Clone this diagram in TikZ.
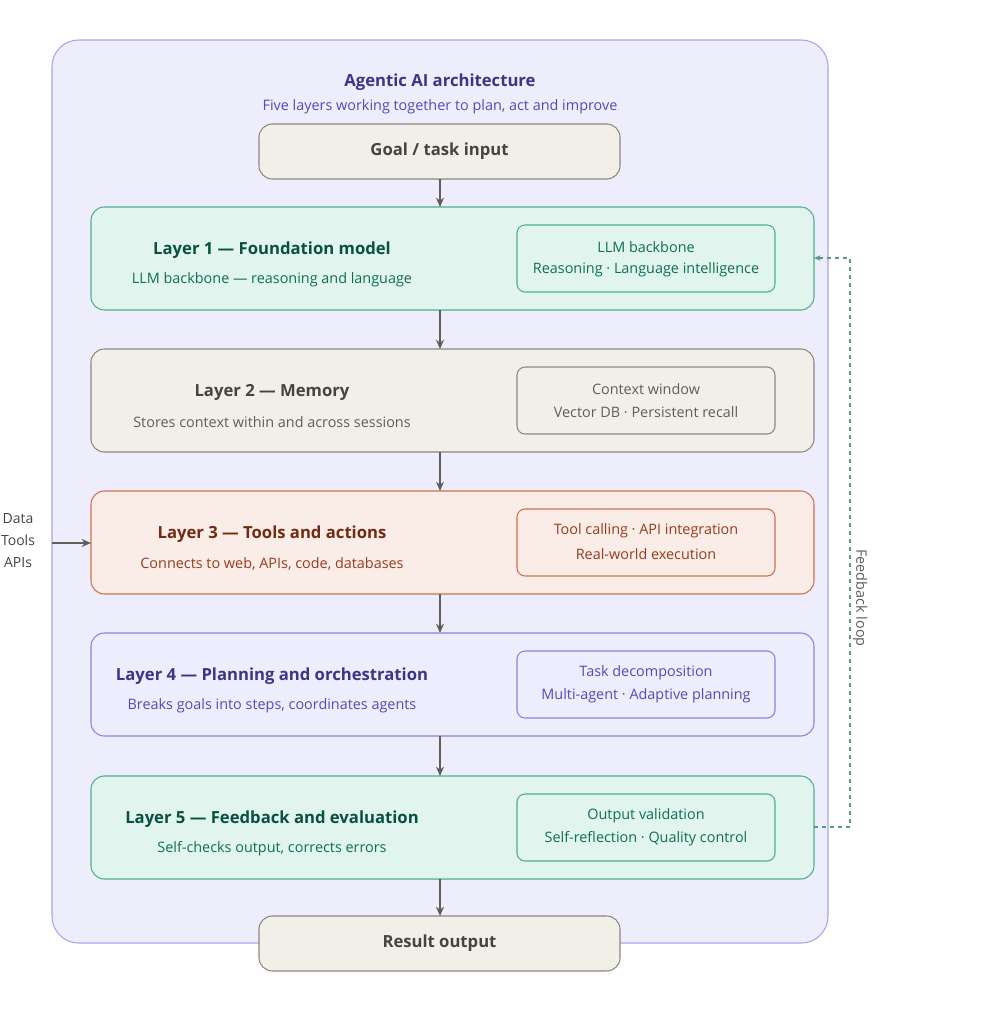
\documentclass[tikz,border=0pt]{standalone}
\usepackage{fontspec}
\setmainfont{Open Sans}
\usetikzlibrary{arrows.meta}
\definecolor{outerf}{HTML}{EEEDFC}\definecolor{outerd}{HTML}{A9A3EC}
\definecolor{grf}{HTML}{F1EFE8}\definecolor{grd}{HTML}{8A8880}\definecolor{grt}{HTML}{444441}\definecolor{grs}{HTML}{5F5E5A}
\definecolor{tef}{HTML}{E1F5EE}\definecolor{ted}{HTML}{4FAE8C}\definecolor{tet}{HTML}{085041}\definecolor{tes}{HTML}{0F6E56}
\definecolor{cof}{HTML}{FAECE7}\definecolor{cod}{HTML}{D0704E}\definecolor{cot}{HTML}{712B13}\definecolor{cos}{HTML}{993C1D}
\definecolor{puf}{HTML}{EEEDFE}\definecolor{pud}{HTML}{8A82E0}\definecolor{put}{HTML}{3C3489}\definecolor{pus}{HTML}{534AB7}
\tikzset{
 layer/.style={rounded corners=10pt,line width=0.8pt},
 inner/.style={rounded corners=6pt,line width=0.8pt},
 flow/.style={-{Stealth[length=7pt,width=6pt]},line width=1pt,draw=grs},
 ttl/.style={font=\bfseries\fontsize{12.5}{14}\selectfont},
 sub/.style={font=\fontsize{10.8}{13}\selectfont},
}
\begin{document}
\begin{tikzpicture}[x=0.75pt,y=-0.75pt]
\useasboundingbox (0,0) rectangle (981,1013);
\draw[fill=outerf,draw=outerd,line width=0.8pt,rounded corners=20pt] (52,40) rectangle (828,943);
\node[ttl,text=put] (title) at (440,82) {Agentic AI architecture};
\node[sub,text=pus] (subt) at (440,107) {Five layers working together to plan, act and improve};
\draw[layer,fill=grf,draw=grd] (259,124) rectangle node[ttl,text=grt] (goal) {Goal / task input} (620,179);
\coordinate (goalb) at (440,179);
% layers
\foreach \n/\y/\f/\d/\t/\s/\A/\B/\C/\D in {
 1/207/tef/ted/tet/tes/{Layer 1 — Foundation model}/{LLM backbone — reasoning and language}/{LLM backbone}/{Reasoning · Language intelligence},
 2/349/grf/grd/grt/grs/{Layer 2 — Memory}/{Stores context within and across sessions}/{Context window}/{Vector DB · Persistent recall},
 3/491/cof/cod/cot/cos/{Layer 3 — Tools and actions}/{Connects to web, APIs, code, databases}/{Tool calling · API integration}/{Real-world execution},
 4/633/puf/pud/put/pus/{Layer 4 — Planning and orchestration}/{Breaks goals into steps, coordinates agents}/{Task decomposition}/{Multi-agent · Adaptive planning},
 5/776/tef/ted/tet/tes/{Layer 5 — Feedback and evaluation}/{Self-checks output, corrects errors}/{Output validation}/{Self-reflection · Quality control}}{
 \draw[layer,fill=\f,draw=\d] (91,\y) rectangle (814,\y+103);
 \coordinate (L\n t) at (440,\y);
 \coordinate (L\n b) at (440,\y+103);
 \coordinate (L\n r) at (814,\y+51);
 \coordinate (L\n l) at (91,\y+51);
 \node[ttl,text=\t] (L\n title) at (272,\y+43) {\A};
 \node[sub,text=\s] (L\n sub) at (272,\y+73) {\B};
 \draw[inner,fill=\f,draw=\d] (517,\y+18) rectangle (775,\y+85);
 \node[sub,text=\s] (L\n i1) at (646,\y+40) {\C};
 \node[sub,text=\s] (L\n i2) at (646,\y+63) {\D};
}
\draw[layer,fill=grf,draw=grd] (259,916) rectangle node[ttl,text=grt] (res) {Result output} (620,971);
\coordinate (rest) at (440,916);
\draw[flow] (goalb) -- (L1t);
\draw[flow] (L1b) -- (L2t);
\draw[flow] (L2b) -- (L3t);
\draw[flow] (L3b) -- (L4t);
\draw[flow] (L4b) -- (L5t);
\draw[flow] (L5b) -- (rest);
% inputs
\node[sub,text=grt,align=center,font=\fontsize{10.5}{16.5}\selectfont] (inp) at (18,541) {Data\\Tools\\APIs};
\coordinate (inpe) at (52,543);
\draw[flow] (inpe) -- (91,543);
% feedback loop
\coordinate (fb1) at (850,827);
\coordinate (fb2) at (850,258);
\draw[draw=tes!70,dashed,line width=0.8pt,-{Stealth[length=5pt,width=4pt]}] (814,827) -- (fb1) -- (fb2) -- (L1r |- fb2);
\node[sub,text=grs,rotate=-90] (fbl) at (860,598) {Feedback loop};
\end{tikzpicture}
\end{document}
